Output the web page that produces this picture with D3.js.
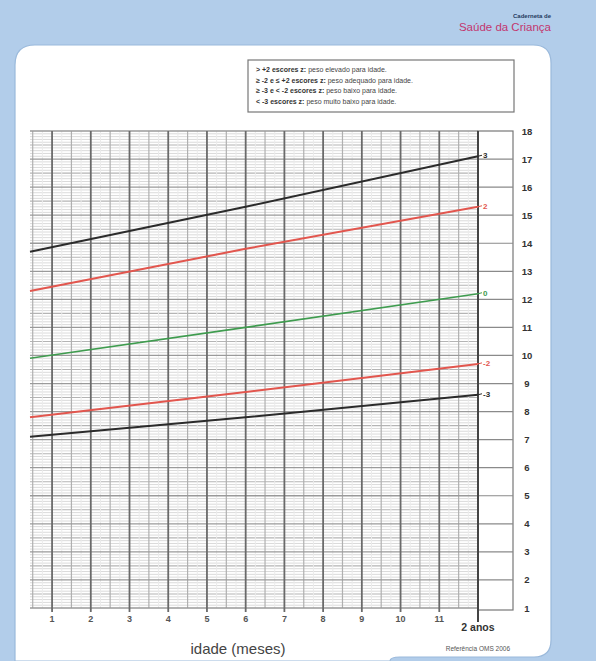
<!DOCTYPE html>
<html>
<head>
<meta charset="utf-8">
<script src="https://cdn.jsdelivr.net/npm/d3@7/dist/d3.min.js"></script>
<style>
  html, body { margin: 0; padding: 0; background: #b2cdea; }
  svg { display: block; }
</style>
</head>
<body>
<svg id="chart" width="596" height="661"></svg>
<script>
// ---- data ----
const monthTicks = [1, 2, 3, 4, 5, 6, 7, 8, 9, 10, 11];
const weightTicks = [1, 2, 3, 4, 5, 6, 7, 8, 9, 10, 11, 12, 13, 14, 15, 16, 17, 18];
const ageSamples = [0.43, 6, 12];
const zPlus3 = [13.7, 15.3, 17.1];
const zPlus2 = [12.3, 13.8, 15.3];
const zZero = [9.9, 11.0, 12.2];
const zMinus2 = [7.8, 8.7, 9.7];
const zMinus3 = [7.1, 7.8, 8.6];
const zNames = ["3", "2", "0", "-2", "-3"];
const zColors = ["#2b2b2b", "#e2564e", "#3f9c4f", "#e2564e", "#2b2b2b"];
const legendLines = [
  ["> +2 escores z:", " peso elevado para idade."],
  ["\u2265 -2 e \u2264 +2 escores z:", " peso adequado para idade."],
  ["\u2265 -3 e < -2 escores z:", " peso baixo para idade."],
  ["< -3 escores z:", " peso muito baixo para idade."]
];

const svg = d3.select("#chart");
const font = "Liberation Sans, Arial, sans-serif";

// background & card
svg.append("rect").attr("width", 596).attr("height", 661).attr("fill", "#b2cdea");
const cardPath = "M15,661 L15,65 Q15,45 35,45 L533,45 Q551,45 551,63 L551,640 Q551,657 534,657 L400,657 Q390,657 390,661 Z";
svg.append("path").attr("d", cardPath).attr("fill", "#fff")
  .attr("stroke", "#9ab9db").attr("stroke-width", 1.2);

// header
svg.append("text").attr("x", 551).attr("y", 18).attr("text-anchor", "end")
  .attr("font-family", font).attr("font-size", 6).attr("font-weight", "bold")
  .attr("fill", "#243a5e").text("Caderneta de");
svg.append("text").attr("x", 551).attr("y", 31).attr("text-anchor", "end")
  .attr("font-family", font).attr("font-size", 11.5)
  .attr("fill", "#c2366e").text("Saúde da Criança");

// scales
const x = d3.scaleLinear().domain([0.43, 12]).range([30, 478]);
const y = d3.scaleLinear().domain([1, 18]).range([608, 131]);

const g = svg.append("g");

// horizontal minor grid (0.1 kg)
const minorH = d3.range(10, 181).map(d => d / 10);
g.selectAll(".hmin").data(minorH.filter(v => Math.abs(v * 2 - Math.round(v * 2)) > 1e-6))
  .enter().append("line")
  .attr("x1", x(0.43)).attr("x2", x(12))
  .attr("y1", d => y(d)).attr("y2", d => y(d))
  .attr("stroke", "#d6d6d6").attr("stroke-width", 0.9);
// half kg
g.selectAll(".hhalf").data(d3.range(1.5, 18, 1))
  .enter().append("line")
  .attr("x1", x(0.43)).attr("x2", x(12))
  .attr("y1", d => y(d)).attr("y2", d => y(d))
  .attr("stroke", "#b4b4b4").attr("stroke-width", 1.1);

// vertical quarter lines
g.selectAll(".vq").data(d3.range(0.5, 12, 0.25).filter(v => v % 0.5 !== 0))
  .enter().append("line")
  .attr("x1", d => x(d)).attr("x2", d => x(d))
  .attr("y1", y(18)).attr("y2", y(1))
  .attr("stroke", "#ebebeb").attr("stroke-width", 1);
g.selectAll(".vh").data(d3.range(0.5, 12, 1))
  .enter().append("line")
  .attr("x1", d => x(d)).attr("x2", d => x(d))
  .attr("y1", y(18)).attr("y2", y(1))
  .attr("stroke", "#b0b0b0").attr("stroke-width", 1.2);

// kg lines
g.selectAll(".hkg").data(weightTicks)
  .enter().append("line")
  .attr("x1", x(0.43)).attr("x2", x(12))
  .attr("y1", d => y(d)).attr("y2", d => y(d))
  .attr("stroke", "#9a9a9a").attr("stroke-width", 1.3);

// month lines
g.selectAll(".vm").data(monthTicks)
  .enter().append("line")
  .attr("x1", d => x(d)).attr("x2", d => x(d))
  .attr("y1", y(18)).attr("y2", y(1) + 4)
  .attr("stroke", "#6a6a6a").attr("stroke-width", 1.8);

// right column box
g.append("rect").attr("x", x(12)).attr("y", y(18))
  .attr("width", 35).attr("height", y(1) - y(18) + 2)
  .attr("fill", "#fff").attr("stroke", "#777").attr("stroke-width", 1.2);
g.selectAll(".rk").data(weightTicks.slice(1, -1))
  .enter().append("line")
  .attr("x1", x(12)).attr("x2", x(12) + 35)
  .attr("y1", d => y(d)).attr("y2", d => y(d))
  .attr("stroke", "#8a8a8a").attr("stroke-width", 1.2);

// 2 anos line
g.append("line").attr("x1", x(12)).attr("x2", x(12))
  .attr("y1", y(18)).attr("y2", y(1) + 14)
  .attr("stroke", "#444").attr("stroke-width", 2);

// curves
const series = [zPlus3, zPlus2, zZero, zMinus2, zMinus3];
const line = d3.line().x(d => x(d[0])).y(d => y(d[1]));
series.forEach((s, i) => {
  const pts = ageSamples.map((a, j) => [a, s[j]]);
  g.append("path").attr("d", line(pts))
    .attr("fill", "none").attr("stroke", zColors[i])
    .attr("stroke-width", i === 2 ? 1.7 : 2);
  const last = s[s.length - 1];
  g.append("line").attr("x1", x(12)).attr("x2", x(12) + 4)
    .attr("y1", y(last)).attr("y2", y(last) - 1)
    .attr("stroke", zColors[i]).attr("stroke-width", 1);
  g.append("text").attr("x", x(12) + 5).attr("y", y(last) + 2)
    .attr("font-family", font).attr("font-size", 8).attr("font-weight", "bold")
    .attr("fill", zColors[i]).text(zNames[i]);
});

// y labels
g.selectAll(".yl").data(weightTicks)
  .enter().append("text")
  .attr("x", 527).attr("y", d => y(d) + 3.5)
  .attr("text-anchor", "middle")
  .attr("font-family", font).attr("font-size", 9.5).attr("font-weight", "bold")
  .attr("fill", "#333").text(d => d);

// x labels
g.selectAll(".xl").data(monthTicks)
  .enter().append("text")
  .attr("x", d => x(d)).attr("y", 622)
  .attr("text-anchor", "middle")
  .attr("font-family", font).attr("font-size", 9).attr("font-weight", "bold")
  .attr("fill", "#555").text(d => d);

svg.append("text").attr("x", 478).attr("y", 631).attr("text-anchor", "middle")
  .attr("font-family", font).attr("font-size", 10.5).attr("font-weight", "bold")
  .attr("fill", "#333").text("2 anos");

svg.append("text").attr("x", 238).attr("y", 654).attr("text-anchor", "middle")
  .attr("font-family", font).attr("font-size", 15)
  .attr("fill", "#444").text("idade (meses)");

svg.append("text").attr("x", 510).attr("y", 651).attr("text-anchor", "end")
  .attr("font-family", font).attr("font-size", 6.5)
  .attr("fill", "#555").text("Referência OMS 2006");

// legend
svg.append("rect").attr("x", 248).attr("y", 60).attr("width", 266).attr("height", 52)
  .attr("fill", "#fff").attr("stroke", "#777").attr("stroke-width", 1.2);
legendLines.forEach((l, i) => {
  const t = svg.append("text").attr("x", 256).attr("y", 72 + i * 10.6)
    .attr("font-family", font).attr("font-size", 7).attr("fill", "#444");
  t.append("tspan").attr("font-weight", "bold").attr("fill", "#333").text(l[0]);
  t.append("tspan").text(l[1]);
});
</script>
</body>
</html>
